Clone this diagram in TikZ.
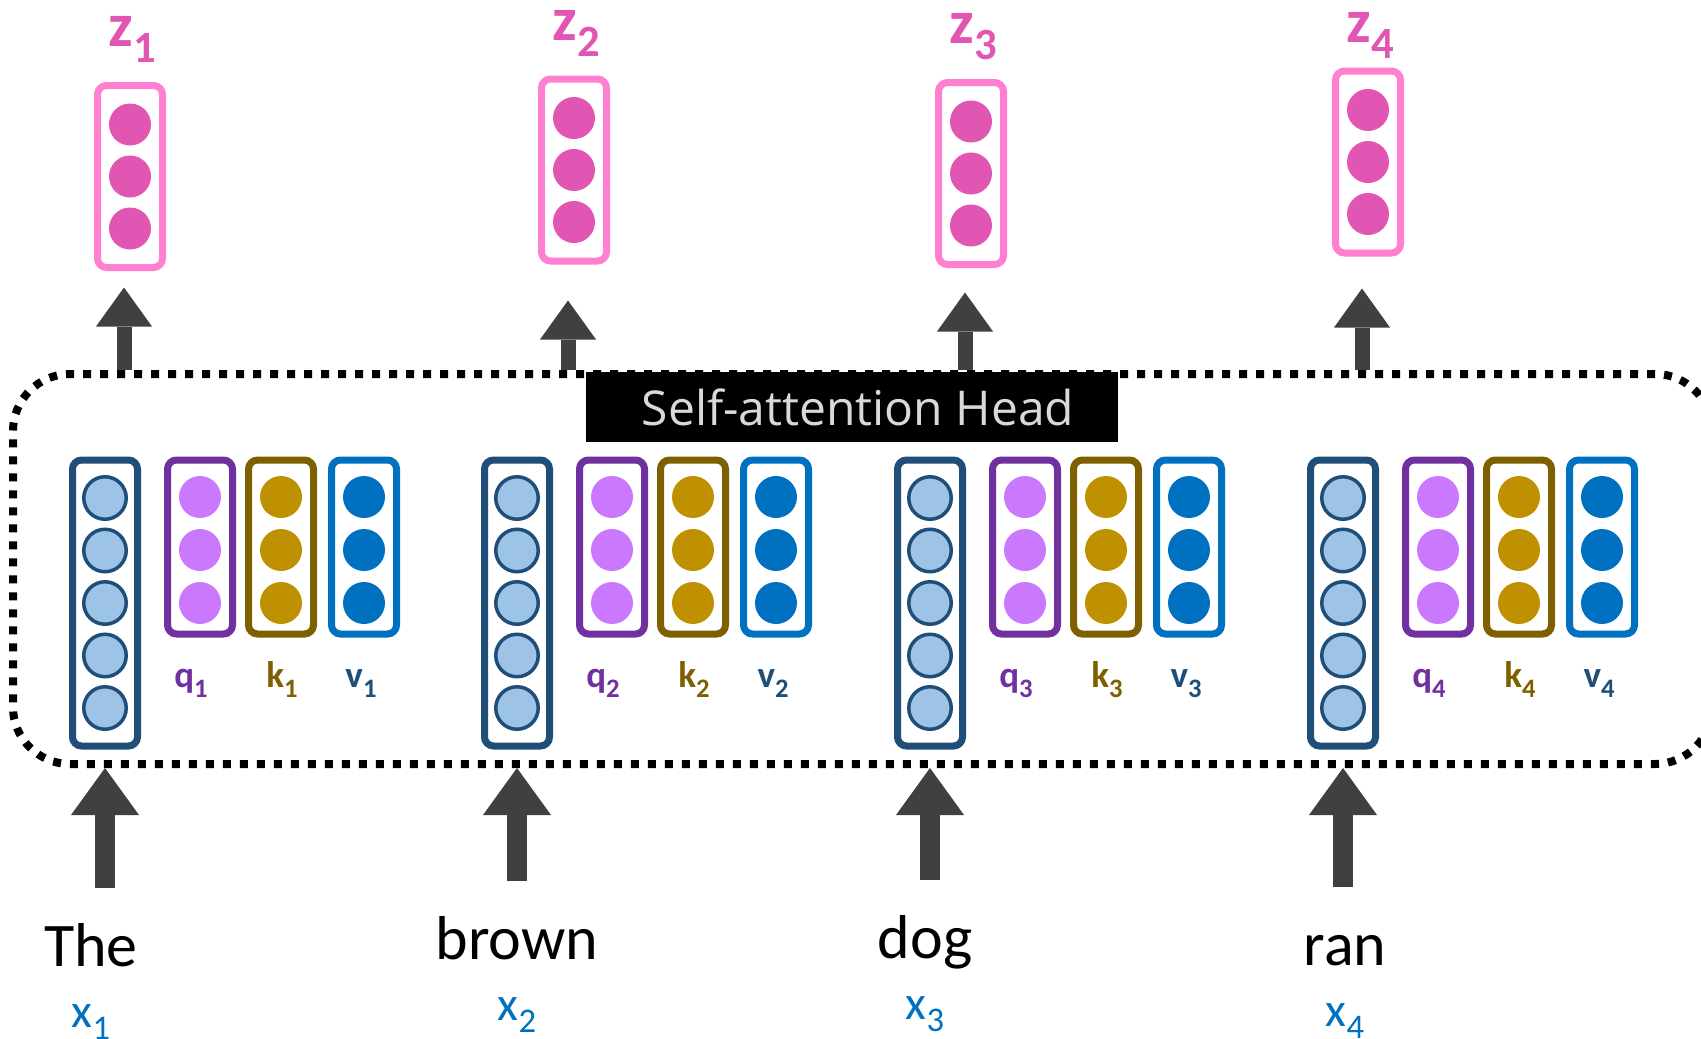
\documentclass[tikz,border=0pt]{standalone}
\usepackage{fontspec}
\usepackage{graphicx}
\setmainfont{Carlito}
\newfontfamily\headfont{Open Sans}
\usetikzlibrary{arrows.meta,calc}

\definecolor{zpink}{RGB}{255,128,208}
\definecolor{zdot}{RGB}{224,86,178}
\definecolor{innavy}{RGB}{31,78,121}
\definecolor{inlight}{RGB}{157,195,230}
\definecolor{qpurple}{RGB}{112,48,160}
\definecolor{qlight}{RGB}{202,120,253}
\definecolor{kbrown}{RGB}{127,96,0}
\definecolor{kgold}{RGB}{191,144,0}
\definecolor{vblue}{RGB}{0,112,192}
\definecolor{arrowgray}{RGB}{64,64,64}
\definecolor{headgray}{RGB}{217,217,217}

% lowered index after a vector name
\newcommand\vecidx[1]{\raisebox{-0.27em}{\scalebox{0.72}{#1}}}

\tikzset{
  vecbox/.style={draw=#1, line width=7pt, rounded corners=9pt, minimum width=65pt, inner sep=0pt},
  unit/.style={circle, fill=#1, minimum size=42pt, inner sep=0pt},
  inunit/.style={circle, draw=innavy, fill=inlight, line width=3.5pt, minimum size=42.5pt, inner sep=0pt},
  veclabel/.style={text=#1, font=\bfseries\fontsize{37}{40}\selectfont, anchor=base, inner sep=0pt},
  zlabel/.style={text=zdot, font=\bfseries\fontsize{62}{66}\selectfont, anchor=base, inner sep=0pt},
  word/.style={font=\fontsize{62}{70}\selectfont, anchor=base, inner sep=0pt},
  xlabel/.style={text=vblue, font=\fontsize{48}{54}\selectfont, anchor=base, inner sep=0pt},
  headframe/.style={draw, line width=8pt, dash pattern=on 8pt off 9pt, rounded corners=57pt,
    minimum width=1699pt, minimum height=390pt, inner sep=0pt},
  headtitle/.style={fill=black, text=headgray, font=\headfont\fontsize{48}{52}\selectfont,
    minimum width=532pt, minimum height=70pt, inner sep=0pt},
  inarrow/.style={draw=arrowgray, line width=20pt, -{Triangle[length=47pt, width=68pt, line width=0pt]}},
  outarrow/.style={draw=arrowgray, line width=15pt, -{Triangle[length=39pt, width=56pt, line width=0pt]}}
}

\begin{document}
\begin{tikzpicture}[x=1pt, y=-1pt]
  \useasboundingbox (0,0) rectangle (1701,1039);

  % the attention head
  \node[headframe] (frame) at (862.5,569) {};
  \node[headtitle] (title) at (852,407) {\hspace{12pt}Self-attention Head};

  % inputs with their queries, keys and values
  \foreach \i/\cx in {1/105, 2/517, 3/930, 4/1343} {
    \node[vecbox=innavy, minimum height=286pt] (in\i) at (\cx,603) {};
    \foreach \dy in {-105,-52.5,0,52.5,105}
      \node[inunit] at (\cx,603+\dy) {};
    \node[vecbox=qpurple, minimum height=174pt] (q\i) at (\cx+95,547) {};
    \node[vecbox=kbrown, minimum height=174pt] (k\i) at (\cx+176,547) {};
    \node[vecbox=vblue, minimum height=174pt] (v\i) at (\cx+259,547) {};
    \foreach \uy in {497,550,603} {
      \node[unit=qlight] at (\cx+95,\uy) {};
      \node[unit=kgold] at (\cx+176,\uy) {};
      \node[unit=vblue] at (\cx+259,\uy) {};
    }
    \node[veclabel=qpurple] at ($(q\i.south)+(-9,50)$) {q\vecidx{\i}};
    \node[veclabel=kbrown] at ($(k\i.south)+(1,50)$) {k\vecidx{\i}};
    \node[veclabel=innavy] at ($(v\i.south)+(-3,50)$) {v\vecidx{\i}};
  }

  % outputs
  \foreach \i/\cx/\cy/\ly/\gap in {1/130/176.5/46/16.5, 2/574/170/40/36, 3/971/173.5/43/24.5, 4/1368/162/42/32} {
    \node[vecbox=zpink, minimum height=182pt] (z\i) at (\cx,\cy) {};
    \foreach \dy in {-52,0,52}
      \node[unit=zdot] at (\cx,\cy+\dy) {};
    \node[zlabel] (zl\i) at (\cx+2,\ly) {z\vecidx{\i}};
    \draw[outarrow] ($(z\i.south |- frame.north)+(-6,0)$) -- ($(z\i.south)+(-6,\gap)$);
  }

  % words
  \foreach \i/\w/\wx/\wy in {1/The/91/966, 2/brown/517/959, 3/dog/925/958, 4/ran/1345/965} {
    \node[word] (w\i) at (\wx,\wy) {\w};
    \node[xlabel] (x\i) at ($(w\i.base)+(0,61)$) {x\vecidx{\i}};
    \draw[inarrow] ($(in\i.south |- w\i.base)+(0,-78)$) -- (in\i.south |- frame.south);
  }
\end{tikzpicture}
\end{document}
